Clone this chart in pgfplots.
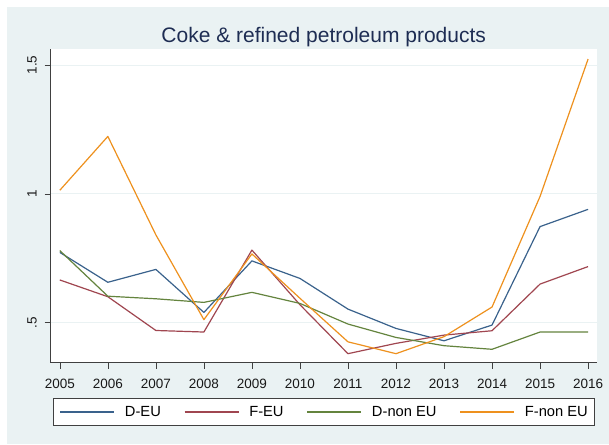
\documentclass[border=0pt]{standalone}
\usepackage{pgfplots}
\pgfplotsset{compat=1.18}
\usepackage{fontspec}
\setmainfont{Liberation Sans}
\definecolor{bgc}{RGB}{234,242,243}
\definecolor{gridc}{RGB}{234,242,243}
\definecolor{sblue}{RGB}{58,98,140}
\definecolor{sred}{RGB}{160,70,80}
\definecolor{sgreen}{RGB}{100,132,62}
\definecolor{sorange}{RGB}{238,145,30}
\definecolor{titlec}{RGB}{30,45,83}
\begin{document}
\begin{tikzpicture}[x=1pt,y=1pt]
\useasboundingbox (0,0) rectangle (609,444);
\fill[white] (0,0) rectangle (609,444);
\fill[bgc] (7.3,0) rectangle (609,436.7);
\node[anchor=base, font=\fontsize{21}{25}\selectfont, text=titlec] at (323.7,401.3) {Coke \& refined petroleum products};
\begin{axis}[
  at={(50.7pt,81.3pt)}, anchor=south west,
  scale only axis, width=546pt, height=313.4pt,
  xmin=2004.81, xmax=2016.18, ymin=0.345, ymax=1.561,
  axis x line*=bottom, axis y line*=left,
  axis line style={black!75, line width=0.6pt},
  axis background/.style={fill=white},
  xtick={2005,2006,2007,2008,2009,2010,2011,2012,2013,2014,2015,2016},
  ytick={0.5,1,1.5}, yticklabels={.5,1,1.5},
  ymajorgrids, grid style={gridc, line width=1pt},
  tick align=outside, major tick length=6pt,
  tick style={black!75, line width=0.6pt},
  /pgf/number format/assume math mode=true,
  /pgf/number format/1000 sep={},
  tick label style={font=\fontsize{13.5}{16}\selectfont, text=black!90},
  xticklabel style={anchor=base, inner sep=0pt, yshift=-19.8pt},
  yticklabel shift=8pt,
  yticklabel style={rotate=90, anchor=base, inner sep=0pt},
  legend columns=4,
  legend style={at={(axis description cs:0.5,-0.1136)}, anchor=north,
    draw=black!75, line width=0.6pt, fill=white,
    font=\fontsize{14.7}{17}\selectfont,
    inner xsep=6.6pt, inner ysep=6.5pt,
    nodes={inner xsep=0pt, inner ysep=1pt},
    /tikz/every odd column/.append style={column sep=10pt},
    /tikz/every even column/.append style={column sep=23pt}},
  legend image code/.code={\draw[#1, line width=1.4pt] (0pt,0pt) -- (54pt,0pt);},
  every axis plot/.append style={line width=1.2pt, line join=round},
]
\addplot[sblue] coordinates {(2005,0.773) (2006,0.657) (2007,0.707) (2008,0.540) (2009,0.740) (2010,0.672) (2011,0.553) (2012,0.478) (2013,0.430) (2014,0.491) (2015,0.873) (2016,0.940)};
\addlegendentry{D-EU}
\addplot[sred] coordinates {(2005,0.666) (2006,0.601) (2007,0.470) (2008,0.464) (2009,0.782) (2010,0.570) (2011,0.380) (2012,0.420) (2013,0.452) (2014,0.469) (2015,0.650) (2016,0.718)};
\addlegendentry{F-EU}
\addplot[sgreen] coordinates {(2005,0.780) (2006,0.603) (2007,0.593) (2008,0.579) (2009,0.618) (2010,0.575) (2011,0.495) (2012,0.443) (2013,0.411) (2014,0.397) (2015,0.464) (2016,0.464)};
\addlegendentry{D-non EU}
\addplot[sorange] coordinates {(2005,1.014) (2006,1.223) (2007,0.841) (2008,0.512) (2009,0.767) (2010,0.595) (2011,0.426) (2012,0.380) (2013,0.446) (2014,0.561) (2015,0.990) (2016,1.523)};
\addlegendentry{F-non EU}
\end{axis}
\end{tikzpicture}
\end{document}
